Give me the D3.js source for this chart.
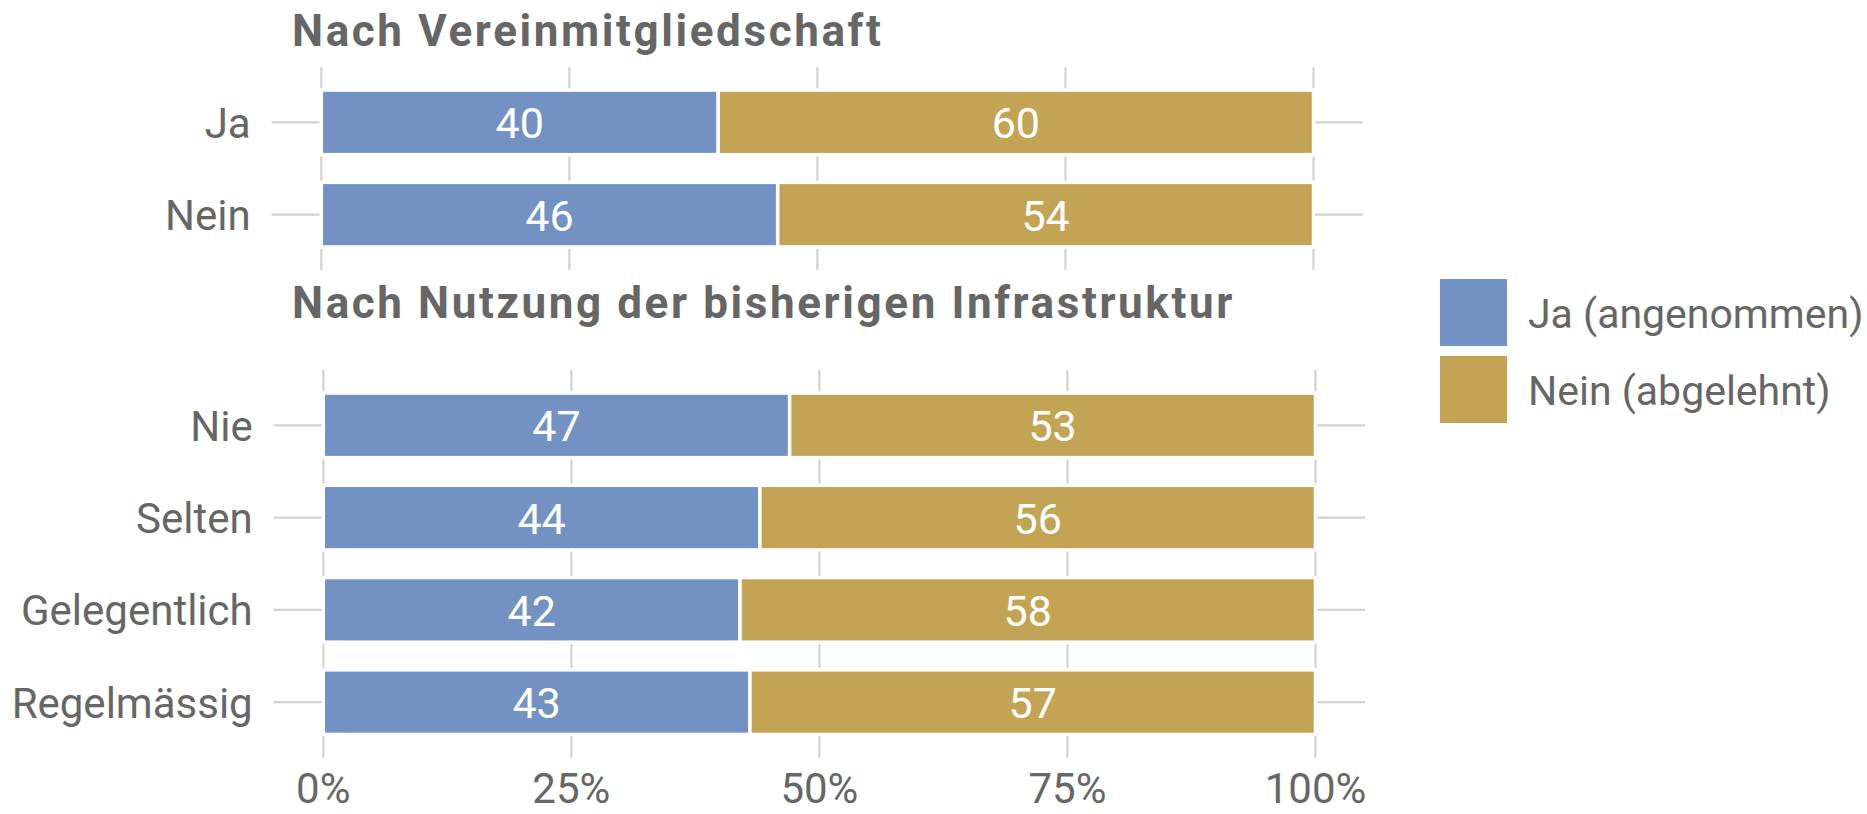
<!DOCTYPE html>
<html>
<head>
<meta charset="utf-8">
<script src="https://cdn.jsdelivr.net/npm/d3@7"></script>
<style>
  body { margin: 0; background: #fff; }
  text { font-family: Roboto, "Noto Sans", sans-serif; fill: #666; }
</style>
</head>
<body>
<div id="chart"></div>
<script>
// data
var vereinCats = ["Ja", "Nein"]
var vereinJa = [40, 46]
var vereinNein = [60, 54]

var nutzungCats = ["Nie", "Selten", "Gelegentlich", "Regelmässig"]
var nutzungJa = [47, 44, 42, 43]
var nutzungNein = [53, 56, 58, 57]

var seriesNames = ["Ja (angenommen)", "Nein (abgelehnt)"]
var titles = ["Nach Vereinmitgliedschaft", "Nach Nutzung der bisherigen Infrastruktur"]
var xTicks = [0, 25, 50, 75, 100]

const width = 1867
const height = 814
const blue = "#7392c3"
const gold = "#c3a455"
const grid = "#d2d2d2"
const fontSize = 42

var svg = d3.select("#chart").append("svg")
  .attr("width", width)
  .attr("height", height)

// draw one facet panel
function panel (cats, ja, nein, xr, yr, title, titleY, showAxis) {
  var x = d3.scaleLinear().domain([0, 100]).range(xr)
  var pad = (xr[1] - xr[0]) * 0.05
  var y = d3.scalePoint().domain(cats).range(yr).padding(0.6)
  var bw = y.step() * 0.7

  var g = svg.append("g")

  // vertical grid
  g.selectAll("line.v").data(xTicks).enter().append("line")
    .attr("x1", d => x(d)).attr("x2", d => x(d))
    .attr("y1", yr[0]).attr("y2", yr[1])
    .attr("stroke", grid).attr("stroke-width", 2.2)

  // horizontal grid
  g.selectAll("line.h").data(cats).enter().append("line")
    .attr("x1", xr[0] - pad).attr("x2", xr[1] + pad)
    .attr("y1", d => y(d)).attr("y2", d => y(d))
    .attr("stroke", grid).attr("stroke-width", 2.2)

  var rows = cats.map((c, i) => ({ cat: c, ja: ja[i], nein: nein[i] }))

  var segs = []
  rows.forEach(r => {
    segs.push({ cat: r.cat, x0: 0, x1: r.ja, v: r.ja, color: blue })
    segs.push({ cat: r.cat, x0: r.ja, x1: r.ja + r.nein, v: r.nein, color: gold })
  })

  g.selectAll("rect").data(segs).enter().append("rect")
    .attr("x", d => x(d.x0))
    .attr("width", d => x(d.x1) - x(d.x0))
    .attr("y", d => y(d.cat) - bw / 2)
    .attr("height", bw)
    .attr("fill", d => d.color)
    .attr("stroke", "white")
    .attr("stroke-width", 3.5)

  g.selectAll("text.val").data(segs).enter().append("text")
    .attr("x", d => x((d.x0 + d.x1) / 2))
    .attr("y", d => y(d.cat))
    .attr("dy", "0.37em")
    .attr("text-anchor", "middle")
    .style("fill", "white")
    .style("font-size", "43px")
    .text(d => d.v)

  // category labels
  g.selectAll("text.cat").data(cats).enter().append("text")
    .attr("x", xr[0] - pad - 21)
    .attr("y", d => y(d))
    .attr("dy", "0.37em")
    .attr("text-anchor", "end")
    .style("font-size", fontSize + "px")
    .text(d => d)

  // facet title
  g.append("text")
    .attr("x", 292)
    .attr("y", titleY)
    .style("font-size", "44px")
    .style("font-weight", "bold")
    .style("letter-spacing", "2.6px")
    .text(title)

  if (showAxis) {
    g.selectAll("text.tick").data(xTicks).enter().append("text")
      .attr("x", d => x(d))
      .attr("y", 803)
      .attr("text-anchor", "middle")
      .style("font-size", fontSize + "px")
      .text(d => d + "%")
  }
}

panel(vereinCats, vereinJa, vereinNein, [321.3, 1313.5], [67, 270], titles[0], 46, false)
panel(nutzungCats, nutzungJa, nutzungNein, [323.3, 1315.5], [370, 757.5], titles[1], 318, true)

// legend
var legend = svg.append("g").attr("transform", "translate(1440,279)")
legend.selectAll("rect").data(seriesNames).enter().append("rect")
  .attr("x", 0)
  .attr("y", (d, i) => i * 77)
  .attr("width", 67)
  .attr("height", 67)
  .attr("fill", (d, i) => [blue, gold][i])

legend.selectAll("text").data(seriesNames).enter().append("text")
  .attr("x", 88)
  .attr("y", (d, i) => i * 77 + 33.5)
  .attr("dy", "0.37em")
  .style("font-size", "41px")
  .text(d => d)
</script>
</body>
</html>
